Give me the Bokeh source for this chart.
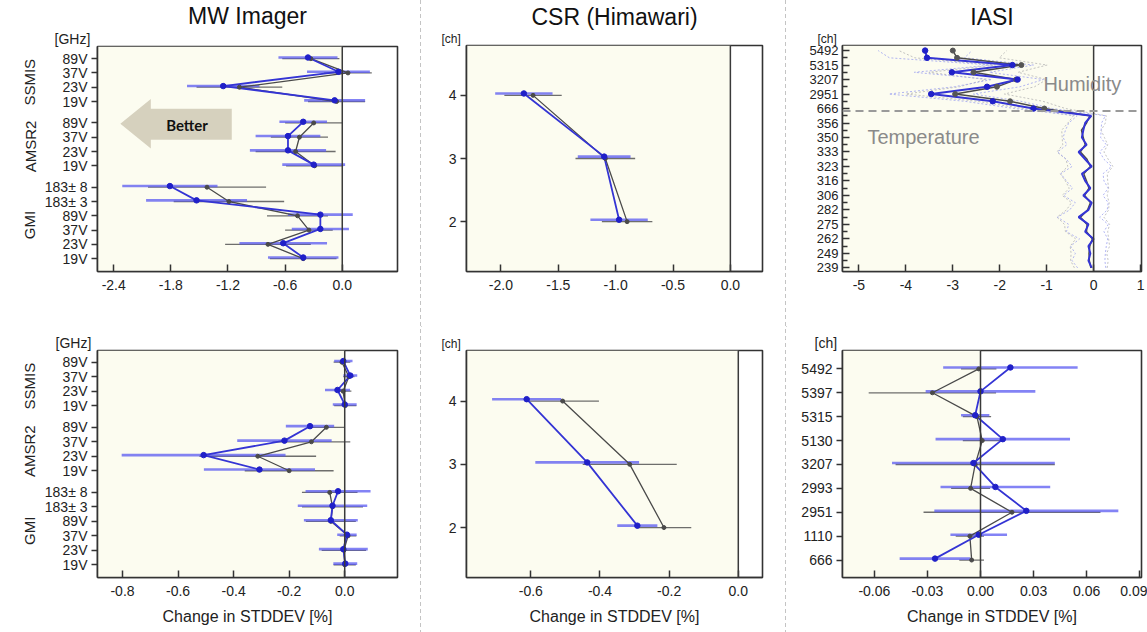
import math
from bokeh.plotting import figure
from bokeh.models import (ColumnDataSource, FixedTicker, PrintfTickFormatter, Span,
                          BoxAnnotation, Label, LinearAxis, PolyAnnotation, Range1d, Div, Title)
from bokeh.layouts import row, column
from bokeh.embed import file_html
from bokeh.resources import INLINE

FONT = "Liberation Sans"
BLUE_LINE = "#3434d4"
BLUE_BAR = "#5a5af2"
BLUE_DOT = "#2020c8"
GRAY_LINE = "#4a4a4a"
GRAY_BAR = "#555555"
CREAM = "#fcfcf0"
TXT = "#222222"

# ---------------- data ----------------
# MW imager channels, bottom to top
mw_channels = ["19V", "23V", "37V", "89V", "183\u00b1 3", "183\u00b1 8",
               "19V", "23V", "37V", "89V",
               "19V", "23V", "37V", "89V"]
mw_sensor = ["GMI"] * 6 + ["AMSR2"] * 4 + ["SSMIS"] * 4
mw_sensor_names = ["GMI", "AMSR2", "SSMIS"]

mw_top_blue = [-0.41, -0.62, -0.23, -0.23, -1.53, -1.81, -0.30, -0.57, -0.57, -0.41, -0.08, -1.25, -0.04, -0.36]
mw_top_blue_err = [0.37, 0.46, 0.30, 0.34, 0.53, 0.50, 0.33, 0.40, 0.34, 0.25, 0.32, 0.38, 0.33, 0.31]
mw_top_gray = [-0.41, -0.78, -0.35, -0.47, -1.19, -1.42, -0.29, -0.49, -0.45, -0.30, -0.06, -1.08, 0.06, -0.33]
mw_top_gray_err = [0.35, 0.45, 0.25, 0.32, 0.58, 0.62, 0.30, 0.42, 0.30, 0.30, 0.30, 0.45, 0.25, 0.30]

mw_bot_blue = [0.002, -0.005, 0.008, -0.050, -0.044, -0.024, -0.307, -0.508, -0.217, -0.125, 0.000, -0.026, 0.020, -0.005]
mw_bot_blue_err = [0.043, 0.088, 0.035, 0.097, 0.125, 0.117, 0.200, 0.295, 0.170, 0.087, 0.043, 0.045, 0.025, 0.033]
mw_bot_gray = [0.000, -0.003, 0.012, -0.050, -0.044, -0.054, -0.200, -0.313, -0.120, -0.066, 0.002, -0.006, 0.015, -0.010]
mw_bot_gray_err = [0.040, 0.080, 0.030, 0.090, 0.110, 0.100, 0.160, 0.210, 0.140, 0.066, 0.040, 0.030, 0.020, 0.030]

# CSR (Himawari)
csr_channels = [2, 3, 4]
csr_top_blue = [-0.97, -1.10, -1.80]
csr_top_blue_err = [0.25, 0.23, 0.25]
csr_top_gray = [-0.90, -1.09, -1.72]
csr_top_gray_err = [0.22, 0.26, 0.25]
csr_bot_blue = [-0.292, -0.437, -0.612]
csr_bot_blue_err = [0.058, 0.150, 0.100]
csr_bot_gray = [-0.215, -0.314, -0.508]
csr_bot_gray_err = [0.079, 0.136, 0.105]

# IASI top: 22 temperature channels (labelled every second) + 9 humidity channels
iasi_temp_tick_labels = ["239", "249", "262", "275", "282", "306", "316", "323", "333", "350", "356"]
iasi_hum_channels = ["666", "1110", "2951", "2993", "3207", "5130", "5315", "5397", "5492"]

iasi_top_blue_temp = [-0.04, -0.11, -0.07, -0.11, 0.00, -0.18, -0.11, -0.32, -0.11, -0.04, -0.22,
                      -0.07, -0.18, -0.25, -0.04, -0.18, -0.32, -0.15, -0.25, -0.22, -0.18, -0.05]
iasi_top_blue_hum = [-1.28, -2.15, -3.46, -2.27, -1.62, -3.02, -1.73, -3.55, -3.59]
iasi_top_gray_temp = [-0.06, -0.09, -0.10, -0.08, -0.03, -0.15, -0.14, -0.28, -0.13, -0.07, -0.19,
                      -0.10, -0.15, -0.21, -0.07, -0.14, -0.28, -0.18, -0.22, -0.26, -0.15, -0.08]
iasi_top_gray_hum = [-1.05, -1.78, -2.95, -2.06, -1.65, -2.56, -1.54, -2.91, -3.00]
iasi_top_blue_ci_temp = [0.30, 0.35, 0.32, 0.38, 0.30, 0.40, 0.42, 0.45, 0.40, 0.35, 0.42,
                         0.38, 0.40, 0.45, 0.42, 0.40, 0.45, 0.42, 0.40, 0.38, 0.35, 0.30]
iasi_top_blue_ci_hum = [0.40, 0.60, 0.90, 0.70, 0.55, 0.80, 0.45, 0.80, 1.00]
iasi_top_gray_ci_temp = [0.35, 0.40, 0.38, 0.42, 0.35, 0.45, 0.48, 0.50, 0.45, 0.40, 0.48,
                         0.42, 0.45, 0.50, 0.48, 0.45, 0.50, 0.48, 0.45, 0.42, 0.40, 0.35]
iasi_top_gray_ci_hum = [0.45, 0.70, 1.05, 0.80, 0.65, 0.95, 0.55, 0.90, 1.15]

# IASI bottom: humidity channels
iasi_bot_blue = [-0.0257, -0.0010, 0.0259, 0.0084, -0.0040, 0.0126, -0.0030, 0.0000, 0.0169]
iasi_bot_blue_err = [0.020, 0.016, 0.052, 0.031, 0.046, 0.038, 0.008, 0.031, 0.038]
iasi_bot_gray = [-0.0050, -0.0060, 0.0178, -0.0056, -0.0030, 0.0010, -0.0020, -0.0272, -0.0010]
iasi_bot_gray_err = [0.007, 0.008, 0.050, 0.011, 0.045, 0.011, 0.008, 0.036, 0.010]

# ---------------- helpers ----------------


def base_fig(width, height, xr, yr, left, right, top, bottom, unit, unit_offset, unit_size, title=None):
    p = figure(width=width, height=height, x_range=Range1d(*xr), y_range=Range1d(*yr),
               output_backend="svg", toolbar_location=None, title=None,
               min_border_left=left, min_border_right=right,
               min_border_top=top, min_border_bottom=bottom)
    p.xgrid.visible = False
    p.ygrid.visible = False
    p.background_fill_color = "white"
    p.border_fill_color = "white"
    p.outline_line_color = "#333333"
    p.outline_line_width = 1.6
    # unit label (e.g. "[GHz]") just above the top-left corner of the frame
    p.add_layout(Title(text=unit, align="left", offset=unit_offset, standoff=0,
                       text_font=FONT, text_font_size=unit_size, text_font_style="normal",
                       text_line_height=0.9, text_color=TXT), "above")
    if title:
        p.add_layout(Title(text=title, align="center", standoff=0, text_font=FONT,
                           text_font_size="23px", text_font_style="normal",
                           text_color="#111111"), "above")
    p.add_layout(BoxAnnotation(right=0, fill_color=CREAM, fill_alpha=1.0, line_alpha=0, level="underlay"))
    p.add_layout(Span(location=0, dimension="height", line_color="#3a3a3a", line_width=1.5))
    return p


def style_x(p, ticks, fmt, label=None):
    ax = p.xaxis[0]
    ax.ticker = FixedTicker(ticks=ticks)
    ax.formatter = PrintfTickFormatter(format=fmt)
    ax.major_tick_in = 7
    ax.major_tick_out = 0
    ax.minor_tick_line_color = None
    ax.major_tick_line_color = "#333333"
    ax.major_tick_line_width = 1.5
    ax.axis_line_color = "#333333"
    ax.axis_line_width = 1.6
    ax.major_label_text_font = FONT
    ax.major_label_text_font_size = "14px"
    ax.major_label_text_color = TXT
    ax.major_label_standoff = 8
    if label:
        ax.axis_label = label
        ax.axis_label_text_font = FONT
        ax.axis_label_text_font_size = "16px"
        ax.axis_label_text_font_style = "normal"
        ax.axis_label_text_color = TXT
        ax.axis_label_standoff = 9


def style_y(p, ticks, labels, size="14px", tick_in=0, tick_out=6, minor=None):
    ax = p.yaxis[0]
    if minor is not None:
        ax.ticker = FixedTicker(ticks=ticks, minor_ticks=minor)
        ax.minor_tick_in = 5
        ax.minor_tick_out = 0
        ax.minor_tick_line_color = "#333333"
        ax.minor_tick_line_width = 1.3
    else:
        ax.ticker = FixedTicker(ticks=ticks)
        ax.minor_tick_line_color = None
    ax.major_label_overrides = {t: l for t, l in zip(ticks, labels)}
    ax.major_tick_in = tick_in
    ax.major_tick_out = tick_out
    ax.major_tick_line_color = "#333333"
    ax.major_tick_line_width = 1.5
    ax.axis_line_color = "#333333"
    ax.axis_line_width = 1.6
    ax.major_label_text_font = FONT
    ax.major_label_text_font_size = size
    ax.major_label_text_color = TXT
    ax.major_label_standoff = 4


def draw_pair(p, y, blue, blue_err, gray, gray_err, segments, dy):
    def make_src(vals, errs, off):
        return ColumnDataSource(dict(y=[a + off for a in y], v=vals,
                                     lo=[a - b for a, b in zip(vals, errs)],
                                     hi=[a + b for a, b in zip(vals, errs)]))
    gs = make_src(gray, gray_err, 0.0)
    bs = make_src(blue, blue_err, dy)
    p.segment(x0="lo", y0="y", x1="hi", y1="y", source=gs, line_color=GRAY_BAR, line_width=1.3, line_alpha=0.85)
    p.segment(x0="lo", y0="y", x1="hi", y1="y", source=bs, line_color=BLUE_BAR, line_width=2.6, line_alpha=0.75)
    for idx in segments:
        p.line([gray[i] for i in idx], [y[i] for i in idx], line_color=GRAY_LINE, line_width=1.3)
    for idx in segments:
        p.line([blue[i] for i in idx], [y[i] + dy for i in idx], line_color=BLUE_LINE, line_width=1.8)
    p.scatter(x="v", y="y", source=gs, size=4, color=GRAY_LINE)
    p.scatter(x="v", y="y", source=bs, size=5.5, color=BLUE_DOT)


# MW positions with a gap between sensors
mw_pos = []
pos = 0.0
prev = mw_sensor[0]
for s in mw_sensor:
    if s != prev:
        pos += 0.5
        prev = s
    mw_pos.append(pos)
    pos += 1.0
mw_segments = [[i for i, s in enumerate(mw_sensor) if s == name] for name in mw_sensor_names]
mw_centers = [sum(mw_pos[i] for i in seg) / len(seg) - 0.15 for seg in mw_segments]


def add_group_axis(p):
    ga = LinearAxis(ticker=FixedTicker(ticks=mw_centers),
                    major_label_overrides={c: n for c, n in zip(mw_centers, mw_sensor_names)},
                    major_label_orientation="vertical",
                    axis_line_color=None, major_tick_line_color=None, minor_tick_line_color=None,
                    major_tick_in=0, major_tick_out=0,
                    major_label_text_font=FONT, major_label_text_font_size="15px",
                    major_label_text_color=TXT, major_label_standoff=3)
    p.add_layout(ga, "left")


# ---------------- geometry ----------------
W1, W2, W3 = 420, 364, 361
H1, H2 = 315, 316

# ---------------- MW top ----------------
p_mw1 = base_fig(W1, H1, (-2.57, 0.58), (-0.9, 14.85), 97, 23, 45, 44, "[GHz]", -43, "14px", "MW Imager")
style_x(p_mw1, [-2.4, -1.8, -1.2, -0.6, 0.0], "%.1f")
style_y(p_mw1, mw_pos, mw_channels)
add_group_axis(p_mw1)
p_mw1.add_layout(PolyAnnotation(xs=[-2.33, -2.01, -2.01, -1.16, -1.16, -2.01, -2.01],
                                ys=[9.44, 11.18, 10.49, 10.49, 8.33, 8.33, 7.71],
                                fill_color="#d6d1be", fill_alpha=1.0, line_alpha=0))
p_mw1.add_layout(Label(x=-1.63, y=9.35, text="Better", text_align="center", text_baseline="middle",
                       text_font="Lato", text_font_size="15px", text_font_style="bold", text_color="#111111"))
draw_pair(p_mw1, mw_pos, mw_top_blue, mw_top_blue_err, mw_top_gray, mw_top_gray_err, mw_segments, 0.08)

# ---------------- MW bottom ----------------
p_mw2 = base_fig(W1, H2, (-0.89, 0.19), (-0.88, 14.81), 95, 23, 34, 55, "[GHz]", -42, "14px")
style_x(p_mw2, [-0.8, -0.6, -0.4, -0.2, 0.0], "%.1f", "Change in STDDEV [%]")
style_y(p_mw2, mw_pos, mw_channels)
add_group_axis(p_mw2)
draw_pair(p_mw2, mw_pos, mw_bot_blue, mw_bot_blue_err, mw_bot_gray, mw_bot_gray_err, mw_segments, 0.08)

# ---------------- CSR top ----------------
csr_seg = [list(range(len(csr_channels)))]
p_c1 = base_fig(W2, H1, (-2.30, 0.28), (1.21, 4.79), 44, 23, 45, 44, "[ch]", -25, "12px", "CSR (Himawari)")
style_x(p_c1, [-2.0, -1.5, -1.0, -0.5, 0.0], "%.1f")
style_y(p_c1, csr_channels, [str(c) for c in csr_channels])
draw_pair(p_c1, csr_channels, csr_top_blue, csr_top_blue_err, csr_top_gray, csr_top_gray_err, csr_seg, 0.03)

# ---------------- CSR bottom ----------------
p_c2 = base_fig(W2, H2, (-0.786, 0.07), (1.21, 4.80), 45, 22, 34, 55, "[ch]", -25, "12px")
style_x(p_c2, [-0.6, -0.4, -0.2, 0.0], "%.1f", "Change in STDDEV [%]")
style_y(p_c2, csr_channels, [str(c) for c in csr_channels])
draw_pair(p_c2, csr_channels, csr_bot_blue, csr_bot_blue_err, csr_bot_gray, csr_bot_gray_err, csr_seg, 0.03)

# ---------------- IASI top ----------------
iasi_top_blue = iasi_top_blue_temp + iasi_top_blue_hum
iasi_top_gray = iasi_top_gray_temp + iasi_top_gray_hum
iasi_top_blue_ci = iasi_top_blue_ci_temp + iasi_top_blue_ci_hum
iasi_top_gray_ci = iasi_top_gray_ci_temp + iasi_top_gray_ci_hum
n_temp = len(iasi_top_blue_temp)
iasi_top_y = list(range(len(iasi_top_blue)))
tick_labels_top = iasi_temp_tick_labels + iasi_hum_channels[0::2]
major_top = iasi_top_y[0::2]
minor_top = iasi_top_y[1::2]

p_i1 = base_fig(W3, H1, (-5.35, 1.02), (-0.5, 30.7), 56, 6, 45, 44, "[ch]", -25, "12px", "IASI")
style_x(p_i1, [-5, -4, -3, -2, -1, 0, 1], "%d")
style_y(p_i1, major_top, tick_labels_top, size="13px", tick_in=7, tick_out=0, minor=minor_top)
for vals, ci, col in ((iasi_top_gray, iasi_top_gray_ci, "#b4b4b4"), (iasi_top_blue, iasi_top_blue_ci, "#9ea2f0")):
    p_i1.line([a - b for a, b in zip(vals, ci)], iasi_top_y, line_color=col, line_width=1, line_dash="2 2", line_alpha=0.8)
    p_i1.line([a + b for a, b in zip(vals, ci)], iasi_top_y, line_color=col, line_width=1, line_dash="2 2", line_alpha=0.8)
p_i1.line(iasi_top_gray, iasi_top_y, line_color=GRAY_LINE, line_width=1.4)
p_i1.line(iasi_top_blue, iasi_top_y, line_color=BLUE_LINE, line_width=2.0)
hum_y = iasi_top_y[n_temp:]
p_i1.scatter(iasi_top_gray[n_temp:], hum_y, size=5, color="#555555")
p_i1.scatter(iasi_top_blue[n_temp:], hum_y, size=5.5, color=BLUE_DOT)
p_i1.add_layout(Span(location=n_temp - 0.35, dimension="width", line_color="#9a9a9a",
                     line_width=2, line_dash="8 5"))
p_i1.add_layout(Label(x=-1.07, y=25.4, text="Humidity", text_baseline="middle", text_font=FONT,
                      text_font_size="20px", text_color="#8a8a8a"))
p_i1.add_layout(Label(x=-4.82, y=18.0, text="Temperature", text_baseline="middle", text_font=FONT,
                      text_font_size="20px", text_color="#8a8a8a"))

# ---------------- IASI bottom ----------------
iasi_bot_y = list(range(len(iasi_hum_channels)))
p_i2 = base_fig(W3, H2, (-0.078, 0.091), (-0.73, 8.77), 55, 4, 34, 55, "[ch]", -28, "14px")
style_x(p_i2, [-0.06, -0.03, 0.0, 0.03, 0.06, 0.09], "%.2f", "Change in STDDEV [%]")
style_y(p_i2, iasi_bot_y, iasi_hum_channels)
draw_pair(p_i2, iasi_bot_y, iasi_bot_blue, iasi_bot_blue_err, iasi_bot_gray, iasi_bot_gray_err,
          [iasi_bot_y], 0.06)

# ---------------- separators & layout ----------------
DASH = "#c4c4c4"


def vsep(h):
    html = ('<div style="width:1px;height:%dpx;background-image:linear-gradient(to bottom,%s 60%%,'
            'rgba(255,255,255,0) 60%%);background-size:1px 7px;"></div>' % (h, DASH))
    return Div(text=html, width=1, height=h, margin=0)


def hsep(w, lead=0):
    html = ('<div style="margin-left:%dpx;width:%dpx;height:1px;background-image:linear-gradient(to right,%s 60%%,'
            'rgba(255,255,255,0) 60%%);background-size:7px 1px;"></div>' % (lead, w - lead, DASH))
    return Div(text=html, width=w, height=1, margin=0)


H = H1 + 1 + H2
col1 = column(p_mw1, hsep(W1, 35), p_mw2, spacing=0)
col2 = column(p_c1, hsep(W2), p_c2, spacing=0)
col3 = column(p_i1, hsep(W3), p_i2, spacing=0)
layout = row(col1, vsep(H), col2, vsep(H), col3, spacing=0)

open("out.html", "w").write(file_html(layout, INLINE))
